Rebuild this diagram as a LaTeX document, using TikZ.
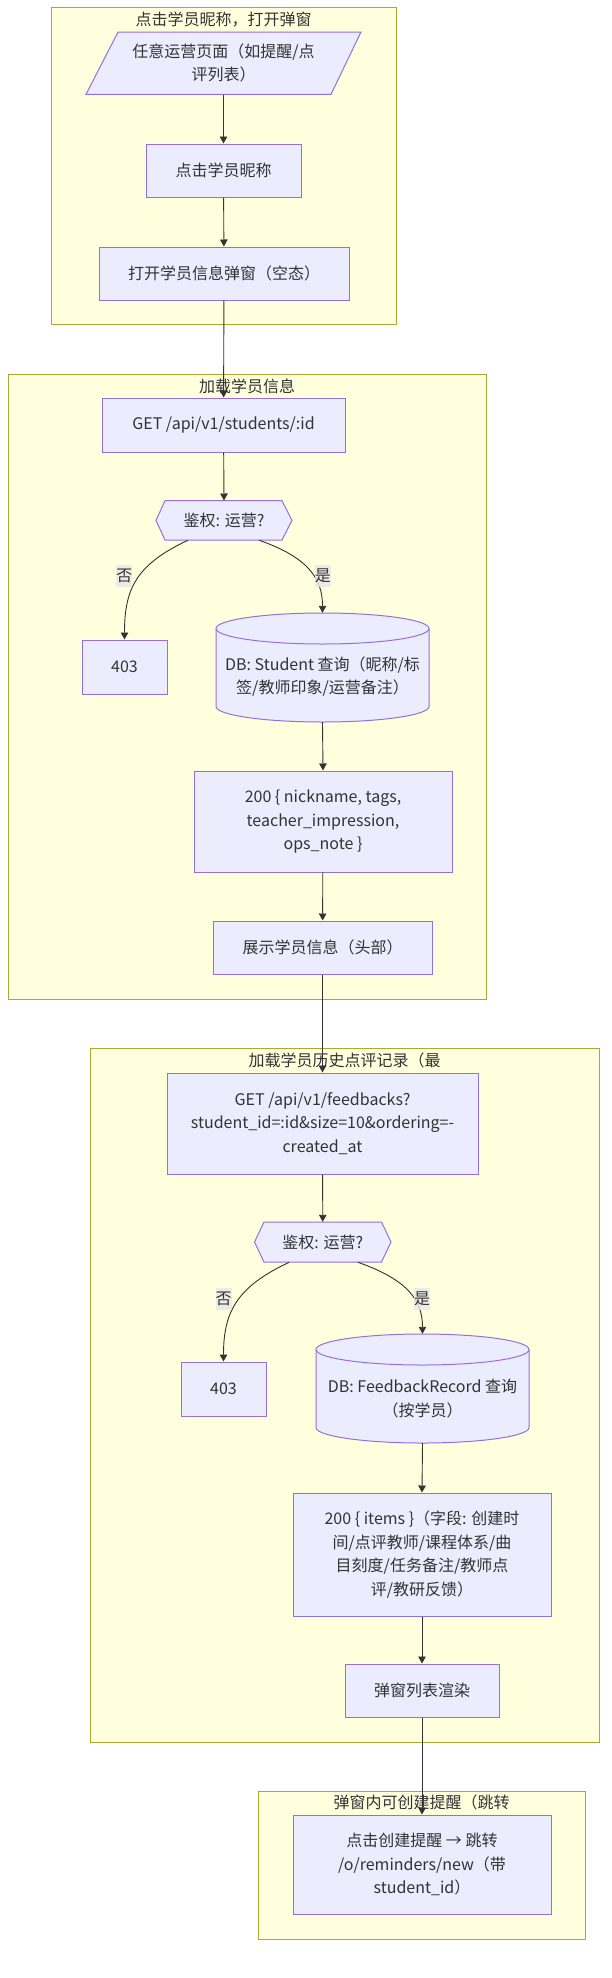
\documentclass[tikz,border=0pt]{standalone}
\usepackage{fontspec}
\setmainfont{Noto Sans CJK SC}
\usetikzlibrary{arrows.meta}
\definecolor{nf}{HTML}{ECECFF}
\definecolor{nb}{HTML}{9370DB}
\definecolor{cf}{HTML}{FFFFDE}
\definecolor{cb}{HTML}{AAAA33}
\definecolor{ec}{HTML}{333333}
\definecolor{lf}{HTML}{E8E8E8}
\begin{document}
\begin{tikzpicture}[x=1pt,y=1pt,
  font=\fontsize{16}{23.5}\selectfont,
  every node/.style={text=ec},
  box/.style={rectangle, draw=nb, fill=nf, line width=1pt, align=center, inner sep=0pt},
  plain/.style={rectangle, align=center, inner sep=0pt},
  shapeline/.style={draw=nb, fill=nf, line width=1pt},
  cluster/.style={draw=cb, fill=cf, line width=1pt},
  flow/.style={draw=ec, line width=0.9pt, -{Triangle[length=7pt,width=7.5pt]}},
  lab/.style={fill=lf, fill opacity=0.8, text opacity=1, inner sep=0pt, minimum width=16pt, minimum height=22pt}
]
\useasboundingbox (0,0) rectangle (612,-1978);
\fill[white] (0,0) rectangle (612,-1978);

% clusters
\draw[cluster] (51,-7) rectangle (396,-324);
\draw[cluster] (8,-374) rectangle (486,-999);
\draw[cluster] (90,-1048) rectangle (599,-1742);
\draw[cluster] (258,-1791) rectangle (585,-1939);
\node[plain] (t1) at (223.5,-19.5) {点击学员昵称，打开弹窗};
\node[plain] (t2) at (247,-386) {加载学员信息};
\node[plain] (t3) at (344.5,-1060) {加载学员历史点评记录（最};
\node[plain] (t4) at (421.5,-1802) {弹窗内可创建提醒（跳转};

% group 1
\draw[shapeline] (118,-32) -- (361,-32) -- (331,-94.3) -- (86,-94.3) -- cycle;
\node[plain, minimum width=200pt, minimum height=62.3pt] (P1) at (223.5,-63.15) {任意运营页面（如提醒/点\\评列表）};
\node[box, minimum width=155pt, minimum height=53pt] (B2) at (223.5,-170.5) {点击学员昵称};
\node[box, minimum width=250pt, minimum height=53pt] (B3) at (224,-273.5) {打开学员信息弹窗（空态）};

% group 2
\node[box, minimum width=243pt, minimum height=54pt] (B4) at (223.5,-425) {GET /api/v1/students/:id};
\draw[shapeline] (156,-520.4) -- (165,-500.7) -- (282,-500.7) -- (292,-520.4) -- (282,-540) -- (165,-540) -- cycle;
\node[plain, minimum width=136pt, minimum height=39.3pt] (H1) at (224,-520.35) {鉴权: 运营?};
\node[box, minimum width=85pt, minimum height=54pt] (N403a) at (124.5,-667) {403};
\draw[shapeline] (216,-628.5) arc[start angle=180,end angle=0,x radius=106.5,y radius=15.5] -- (429,-706.5) arc[start angle=0,end angle=-180,x radius=106.5,y radius=15.5] -- cycle;
\draw[shapeline, fill=none] (216,-628.5) arc[start angle=180,end angle=360,x radius=106.5,y radius=15.5];
\node[plain, minimum width=213pt, minimum height=109pt] (DB1) at (322.5,-667.5) {};
\node[plain] (DB1t) at (322.5,-676.5) {DB: Student 查询（昵称/标\\签/教师印象/运营备注）};
\node[box, minimum width=258pt, minimum height=101pt] (B200) at (323,-821.5) {200 \{ nickname, tags,\\teacher\_impression,\\ops\_note \}};
\node[box, minimum width=219pt, minimum height=53pt] (Show) at (322.5,-947.5) {展示学员信息（头部）};

% group 3
\node[box, minimum width=311pt, minimum height=101pt] (GETfb) at (322.5,-1123.5) {GET /api/v1/feedbacks?\\student\_id=:id\&size=10\&ordering=-\\created\_at};
\draw[shapeline] (254.5,-1242) -- (264,-1222) -- (381.5,-1222) -- (391,-1242) -- (381.5,-1262) -- (264,-1262) -- cycle;
\node[plain, minimum width=136.5pt, minimum height=40pt] (H2) at (322.75,-1242) {鉴权: 运营?};
\node[box, minimum width=85pt, minimum height=54pt] (N403b) at (223.5,-1389) {403};
\draw[shapeline] (316,-1349.5) arc[start angle=180,end angle=0,x radius=106.5,y radius=15.5] -- (529,-1427.5) arc[start angle=0,end angle=-180,x radius=106.5,y radius=15.5] -- cycle;
\draw[shapeline, fill=none] (316,-1349.5) arc[start angle=180,end angle=360,x radius=106.5,y radius=15.5];
\node[plain, minimum width=213pt, minimum height=109pt] (DB2) at (422.5,-1388.5) {};
\node[plain] (DB2t) at (422.5,-1398.5) {DB: FeedbackRecord 查询\\（按学员）};
\node[box, minimum width=258pt, minimum height=123pt] (B200b) at (422,-1554.5) {200 \{ items \}（字段: 创建时\\间/点评教师/课程体系/曲\\目刻度/任务备注/教师点\\评/教研反馈）};
\node[box, minimum width=154pt, minimum height=53pt] (Render) at (422,-1690.5) {弹窗列表渲染};

% group 4
\node[box, minimum width=258pt, minimum height=99pt] (Last) at (422,-1864.5) {点击创建提醒 → 跳转\\/o/reminders/new（带\\student\_id）};

% connectors
\draw[flow] (P1.south) -- (B2.north);
\draw[flow] (B2) -- (B3);
\draw[flow] (B3) -- (B4);
\draw[flow] (B4) -- (H1.north);
\draw[flow] ([xshift=-36pt]H1.south) .. controls (135,-565) and (124.5,-590) .. (N403a.north);
\draw[flow] ([xshift=35pt]H1.south) .. controls (310,-558) and (322.5,-580) .. (DB1.north);
\draw[flow] (DB1.south) -- (B200.north);
\draw[flow] (B200) -- (Show);
\draw[flow] (Show) -- (GETfb);
\draw[flow] (GETfb) -- (H2.north);
\draw[flow] ([xshift=-33.5pt]H2.south) .. controls (236.5,-1287) and (223.5,-1312) .. (N403b.north);
\draw[flow] ([xshift=35pt]H2.south) .. controls (408.6,-1280) and (422.5,-1301) .. (DB2.north);
\draw[flow] (DB2.south) -- (B200b.north);
\draw[flow] (B200b) -- (Render);
\draw[flow] (Render) -- (Last);

% edge labels
\node[lab] (L1) at (124.3,-576) {否};
\node[lab] (L2) at (322.8,-576) {是};
\node[lab] (L3) at (223.5,-1298.5) {否};
\node[lab] (L4) at (422,-1298.5) {是};
\end{tikzpicture}
\end{document}
